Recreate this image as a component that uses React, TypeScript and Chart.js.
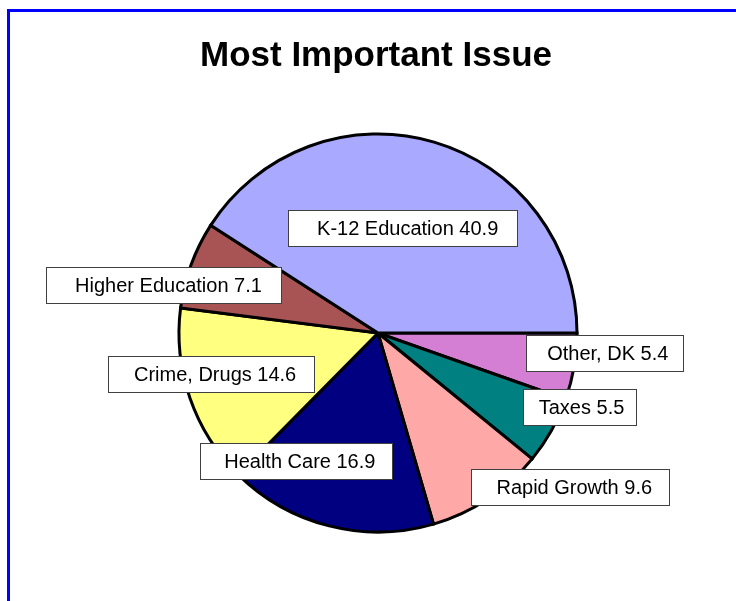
import React, { useEffect, useRef } from "react";
import { Chart, registerables } from "chart.js";

Chart.register(...registerables);

// Data (clockwise from 3 o'clock)
const categories: string[] = [
  "Other, DK",
  "Taxes",
  "Rapid Growth",
  "Health Care",
  "Crime, Drugs",
  "Higher Education",
  "K-12 Education",
];
const values: number[] = [5.4, 5.5, 9.6, 16.9, 14.6, 7.1, 40.9];
const chartTitle = "Most Important Issue";

// Styles
const sliceColors: string[] = [
  "#D47FD4",
  "#008080",
  "#FFA8A8",
  "#000080",
  "#FFFF80",
  "#A85454",
  "#A9A9FF",
];

// Label layout: text centre relative to pie centre, in units of the pie radius
const labelOffsets: [number, number][] = [
  [1.146, 0.104],
  [1.015, 0.373],
  [0.979, 0.77],
  [-0.39, 0.639],
  [-0.8125, 0.2045],
  [-1.045, -0.238],
  [0.148, -0.52],
];

const FONT = "'Liberation Sans', Arial, Helvetica, sans-serif";

const labelPlugin = {
  id: "boxLabels",
  afterDatasetsDraw(chart: any) {
    const ctx: CanvasRenderingContext2D = chart.ctx;
    const meta = chart.getDatasetMeta(0);
    const arc0 = meta.data[0] as any;
    if (!arc0) return;
    const cx = arc0.x;
    const cy = arc0.y;
    const r = arc0.outerRadius + 1.5;
    ctx.save();
    ctx.font = `20px ${FONT}`;
    ctx.textBaseline = "middle";
    ctx.textAlign = "left";
    meta.data.forEach((_a: any, i: number) => {
      const text = `${categories[i]} ${values[i]}`;
      const w = ctx.measureText(text).width;
      const tx = cx + labelOffsets[i][0] * r;
      const ty = cy + labelOffsets[i][1] * r;
      const padL = 0.13 * w + 5;
      const padR = 0.07 * w + 7;
      const left = Math.round(tx - w / 2 - padL);
      const right = Math.round(tx + w / 2 + padR);
      const top = Math.round(ty - 18.5);
      const bottom = top + 37;
      ctx.fillStyle = "#FFFFFF";
      ctx.fillRect(left, top, right - left, bottom - top);
      ctx.strokeStyle = "#404040";
      ctx.lineWidth = 1;
      ctx.strokeRect(left + 0.5, top + 0.5, right - left - 1, bottom - top - 1);
      ctx.fillStyle = "#000000";
      ctx.fillText(text, tx - w / 2, ty + 1);
    });
    ctx.restore();
  },
  afterDraw(chart: any) {
    const ctx: CanvasRenderingContext2D = chart.ctx;
    ctx.save();
    ctx.font = `bold 35px ${FONT}`;
    ctx.textAlign = "center";
    ctx.textBaseline = "alphabetic";
    ctx.fillStyle = "#000000";
    ctx.fillText(chartTitle, 376, 66);
    ctx.restore();
  },
};

export default function App() {
  const canvasRef = useRef<HTMLCanvasElement | null>(null);

  useEffect(() => {
    if (!canvasRef.current) return;
    const chart = new Chart(canvasRef.current, {
      type: "pie",
      data: {
        labels: categories,
        datasets: [
          {
            data: values,
            backgroundColor: sliceColors,
            borderColor: "#000000",
            borderWidth: 3,
            borderJoinStyle: "miter",
          } as any,
        ],
      },
      options: {
        animation: false,
        responsive: false,
        devicePixelRatio: 1,
        rotation: 90,
        radius: 199,
        layout: { padding: { left: 20, right: 0, top: 65, bottom: 0 } },
        plugins: {
          legend: { display: false },
          tooltip: { enabled: false },
          title: { display: false },
        },
      } as any,
      plugins: [labelPlugin],
    });
    return () => chart.destroy();
  }, []);

  return (
    <>
      <div
        style={{
          position: "absolute",
          left: 7,
          top: 9,
          width: 729,
          height: 592,
          boxSizing: "border-box",
          borderLeft: "3px solid #0000FF",
          borderTop: "3px solid #0000FF",
        }}
      />
      <canvas
        ref={canvasRef}
        width={736}
        height={601}
        style={{ position: "absolute", left: 0, top: 0, width: 736, height: 601 }}
      />
    </>
  );
}
